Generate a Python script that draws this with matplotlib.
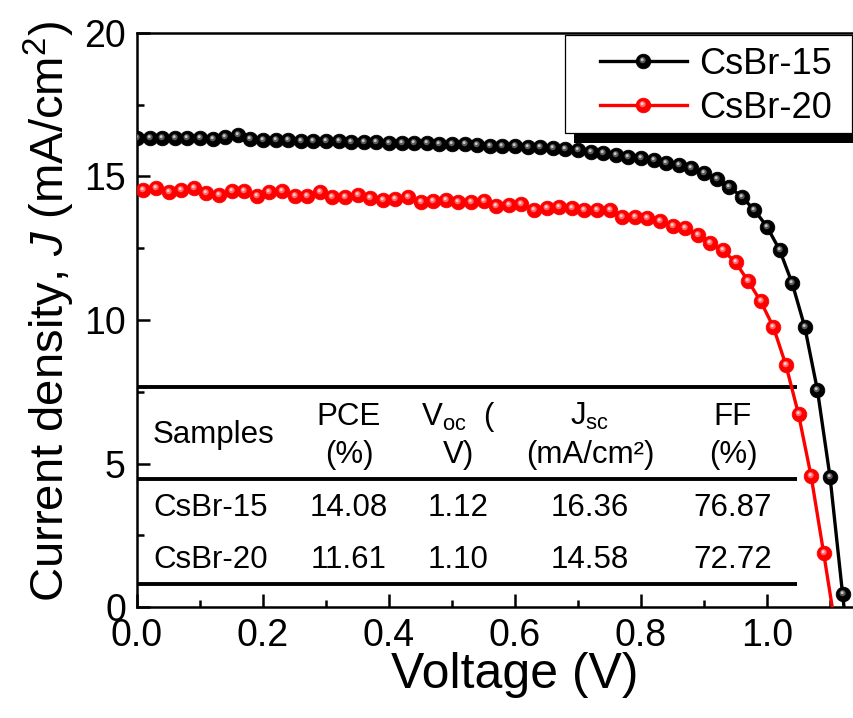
import numpy as np
import matplotlib
matplotlib.use("Agg")
import matplotlib.pyplot as plt
from matplotlib.path import Path
from matplotlib.patches import Rectangle
from matplotlib.ticker import MultipleLocator, FormatStrFormatter

plt.rcParams["font.family"] = ["Liberation Sans", "DejaVu Sans"]
plt.rcParams["mathtext.fontset"] = "custom"
plt.rcParams["mathtext.rm"] = "Liberation Sans"
plt.rcParams["mathtext.it"] = "Liberation Sans:italic"
plt.rcParams["mathtext.bf"] = "Liberation Sans:bold"

# J-V data
v_15 = [0.00, 0.02, 0.04, 0.06, 0.08, 0.10, 0.12, 0.14, 0.16, 0.18,
        0.20, 0.22, 0.24, 0.26, 0.28, 0.30, 0.32, 0.34, 0.36, 0.38,
        0.40, 0.42, 0.44, 0.46, 0.48, 0.50, 0.52, 0.54, 0.56, 0.58,
        0.60, 0.62, 0.64, 0.66, 0.68, 0.70, 0.72, 0.74, 0.76, 0.78,
        0.80, 0.82, 0.84, 0.86, 0.88, 0.90, 0.92, 0.94, 0.96, 0.98,
        1.00, 1.02, 1.04, 1.06, 1.08, 1.10, 1.12, 1.14]
j_15 = [16.35, 16.33, 16.33, 16.35, 16.33, 16.33, 16.31, 16.36, 16.45, 16.30,
        16.28, 16.27, 16.27, 16.25, 16.25, 16.24, 16.22, 16.21, 16.21, 16.20,
        16.18, 16.18, 16.17, 16.15, 16.14, 16.13, 16.12, 16.10, 16.08, 16.07,
        16.05, 16.04, 16.02, 15.99, 15.96, 15.92, 15.87, 15.82, 15.75, 15.69,
        15.64, 15.56, 15.48, 15.39, 15.28, 15.11, 14.90, 14.64, 14.29, 13.83,
        13.25, 12.44, 11.28, 9.75, 7.56, 4.54, 0.45, -3.6]

v_20 = [0.01, 0.03, 0.05, 0.07, 0.09, 0.11, 0.13, 0.15, 0.17, 0.19,
        0.21, 0.23, 0.25, 0.27, 0.29, 0.31, 0.33, 0.35, 0.37, 0.39,
        0.41, 0.43, 0.45, 0.47, 0.49, 0.51, 0.53, 0.55, 0.57, 0.59,
        0.61, 0.63, 0.65, 0.67, 0.69, 0.71, 0.73, 0.75, 0.77, 0.79,
        0.81, 0.83, 0.85, 0.87, 0.89, 0.91, 0.93, 0.95, 0.97, 0.99,
        1.01, 1.03, 1.05, 1.07, 1.09, 1.11]
j_20 = [14.53, 14.59, 14.47, 14.53, 14.59, 14.41, 14.36, 14.50, 14.48, 14.32,
        14.47, 14.50, 14.32, 14.32, 14.47, 14.27, 14.27, 14.34, 14.24, 14.18,
        14.21, 14.30, 14.12, 14.15, 14.18, 14.12, 14.12, 14.15, 13.97, 14.00,
        14.03, 13.85, 13.90, 13.94, 13.89, 13.83, 13.83, 13.82, 13.58, 13.58,
        13.56, 13.45, 13.28, 13.22, 12.97, 12.68, 12.43, 12.01, 11.36, 10.65,
        9.76, 8.43, 6.72, 4.56, 1.87, -0.9]

samples = ["CsBr-15", "CsBr-20"]
pce = ["14.08", "11.61"]
voc = ["1.12", "1.10"]
jsc = ["16.36", "14.58"]
ff = ["76.87", "72.72"]
head_top = ["PCE", r"V$_{\mathrm{oc}}$  (", r"J$_{\mathrm{sc}}$", "FF"]
head_bot = ["(%)", "V)", "(mA/cm\u00b2)", "(%)"]

fig = plt.figure(figsize=(8.54, 7.18), dpi=100)
W, H = 854.0, 718.0
ax = fig.add_axes([137 / W, 111 / H, 724.5 / W, 574 / H])
ax.set_xlim(0, 1.15)
ax.set_ylim(0, 20)

ms = 10.5


def spot(cx, cy, rad):
    p = Path.circle((cx, cy), rad)
    return p, np.max(np.abs(p.vertices))


def draw_curve(v, j, col, mid, light):
    base, = ax.plot(v, j, "-", color=col, lw=2.4, marker="o", ms=ms,
                    mfc=col, mec=col, mew=0.6, zorder=3)
    p1, r1 = spot(-0.12, 0.18, 0.42)
    s1, = ax.plot(v, j, ls="none", marker=p1, ms=ms * r1, mfc=mid,
                  mew=0, zorder=3.1)
    p2, r2 = spot(-0.18, 0.25, 0.2)
    s2, = ax.plot(v, j, ls="none", marker=p2, ms=ms * r2, mfc=light,
                  mew=0, zorder=3.2)
    return (base, s1, s2)


h15 = draw_curve(v_15, j_15, "black", "#5a5a5a", "#c8c8c8")
h20 = draw_curve(v_20, j_20, "#ff0000", "#ff6a6a", "#ffd0d0")

# axes styling
for s in ax.spines.values():
    s.set_linewidth(1.8)
ax.spines["right"].set_visible(False)
ax.xaxis.set_major_locator(MultipleLocator(0.2))
ax.xaxis.set_minor_locator(MultipleLocator(0.1))
ax.xaxis.set_major_formatter(FormatStrFormatter("%.1f"))
ax.yaxis.set_major_locator(MultipleLocator(5))
ax.yaxis.set_minor_locator(MultipleLocator(2.5))
ax.tick_params(which="both", direction="in", width=1.8, top=False, right=False)
ax.tick_params(which="major", length=9.5, labelsize=27)
ax.tick_params(which="minor", length=5)
ax.tick_params(axis="x", which="major", pad=8)
ax.tick_params(axis="y", which="major", pad=8)

ax.set_xlabel("Voltage (V)", fontsize=36)
ax.xaxis.set_label_coords(0.521, -0.078)
ax.set_ylabel(r"Current density, $J$ (mA/cm$^{2}$)", fontsize=34)
ax.yaxis.set_label_coords(-0.083, 0.514)

# table inside the plot
for yl in [7.68, 4.46, 0.80]:
    ax.plot([0, 1.047], [yl, yl], color="black", lw=2.8,
            solid_capstyle="butt", zorder=1)

tfs = 22.5
col_x = [0.3365, 0.51, 0.719, 0.946]
ax.text(0.0254, 5.99, "Samples", fontsize=tfs, ha="left", va="center")
for cx, t1, t2 in zip(col_x, head_top, head_bot):
    ax.text(cx, 6.63, t1, fontsize=tfs, ha="center", va="center")
    ax.text(cx, 5.30, t2, fontsize=tfs, ha="center", va="center")
for ry, s, a, b, c, d in zip([3.45, 1.64], samples, pce, voc, jsc, ff):
    ax.text(0.0254, ry, s, fontsize=tfs, ha="left", va="center")
    for cx, val in zip(col_x, [a, b, c, d]):
        ax.text(cx, ry, val, fontsize=tfs, ha="center", va="center")

# legend box with hard black shadow
fig.patches.append(Rectangle((574 / W, 1 - 143 / H), 290 / W, 100 / H,
                             transform=fig.transFigure, facecolor="black",
                             edgecolor="none", zorder=3))
fig.patches.append(Rectangle((565 / W, 1 - 133 / H), 287 / W, 98 / H,
                             transform=fig.transFigure, facecolor="white",
                             edgecolor="black", lw=0.9, zorder=4))
leg = fig.legend([h15, h20], samples, loc="center",
                 bbox_to_anchor=(716 / W, 1 - 86.5 / H),
                 bbox_transform=fig.transFigure, frameon=False, fontsize=26,
                 handlelength=2.4, handletextpad=0.35, labelspacing=0.25,
                 numpoints=1, borderpad=0.1)
leg.set_zorder(5)

fig.savefig("out.png", dpi=100)
